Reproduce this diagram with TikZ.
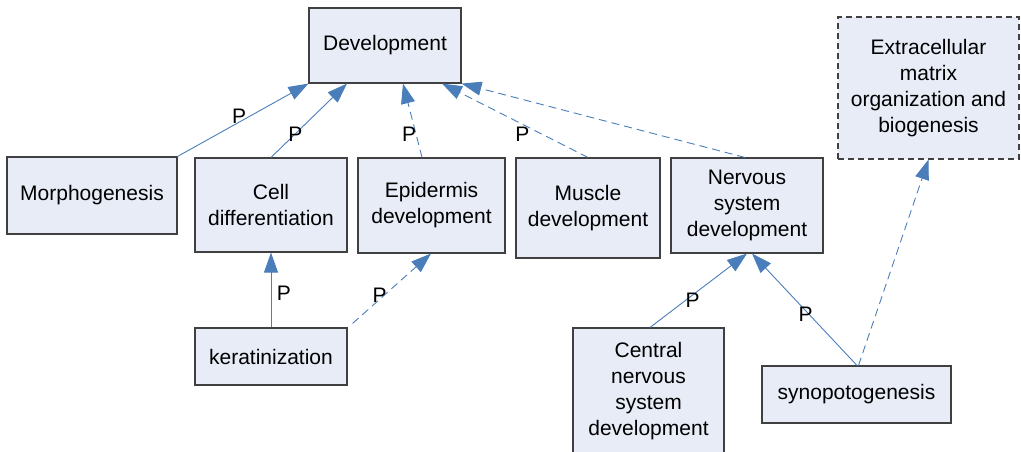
\documentclass[tikz,border=0pt]{standalone}
\usepackage{fontspec}
\setmainfont{Liberation Sans}
\usetikzlibrary{arrows.meta}
\definecolor{boxfill}{HTML}{E7ECF7}
\definecolor{boxline}{HTML}{404040}
\definecolor{linkblue}{HTML}{4A7EBB}
\tikzset{
  term/.style={draw=boxline, line width=1.1pt, fill=boxfill, inner sep=0pt,
    align=center, font=\fontsize{21}{26}\selectfont},
  partof/.style={draw=linkblue, line width=0.9pt,
    -{Triangle[length=20pt, width=14pt]}, shorten <=0pt},
  weak/.style={partof, dash pattern=on 8pt off 5pt},
  lab/.style={font=\fontsize{21}{21}\selectfont, inner sep=0pt, text=black}
}
\begin{document}
\begin{tikzpicture}[x=1pt, y=-1pt]
\useasboundingbox (0,0) rectangle (1021,451);

% terms
\node[term, minimum width=152, minimum height=75] (dev) at (385,45.5) {Development};
\node[term, minimum width=170, minimum height=77] (morph) at (92,195.5) {Morphogenesis};
\node[term, minimum width=152, minimum height=94] (cell) at (271,205) {Cell\\differentiation};
\node[term, minimum width=147, minimum height=95] (epi) at (431.5,205.5) {Epidermis\\development};
\node[term, minimum width=144, minimum height=100] (muscle) at (588,208) {Muscle\\development};
\node[term, minimum width=152, minimum height=95] (nerv) at (747,205.5) {Nervous\\system\\development};
\node[term, dash pattern=on 6pt off 4pt, minimum width=181, minimum height=142] (ecm) at (928.5,88)
  {Extracellular\\matrix\\organization and\\biogenesis};
\node[term, minimum width=152, minimum height=57] (ker) at (271,356.5) {keratinization};
\node[term, minimum width=151, minimum height=126] (cns) at (648.5,391)
  {Central\\nervous\\system\\development};
\node[term, minimum width=189, minimum height=57] (syn) at (856.5,394.5) {synopotogenesis};

% part-of links
\draw[partof] (morph.north east) -- node[lab, pos=0.47, yshift=6pt] (p1) {P} (dev.south west);
\draw[partof] (cell.north) -- node[lab, pos=0.32] (p2) {P} ([xshift=-38pt]dev.south);
\draw[weak] ([xshift=-9.5pt]epi.north) -- node[lab, pos=0.31, xshift=-7pt] (p3) {P} ([xshift=18pt]dev.south);
\draw[weak] (muscle.north) -- node[lab, pos=0.45, yshift=-10pt] (p4) {P} ([xshift=57pt]dev.south);
\draw[weak] ([xshift=-2pt]nerv.north) -- (dev.south east);

\draw[partof] (ker.north) -- node[lab, pos=0.45, xshift=13pt] (p5) {P} (cell.south);
\draw[weak] ([xshift=5pt, yshift=4pt]ker.north east) -- node[lab, pos=0.41, xshift=-5pt] (p6) {P} ([xshift=-0.5pt]epi.south);

\draw[partof] ([xshift=1.5pt]cns.north) -- node[lab, pos=0.44, yshift=-5pt] (p7) {P} (nerv.south);
\draw[partof] ([xshift=0.5pt]syn.north) -- node[lab, pos=0.49, yshift=-4pt] (p8) {P} ([xshift=5pt]nerv.south);
\draw[weak] ([xshift=2pt]syn.north) -- (ecm.south);
\end{tikzpicture}
\end{document}
